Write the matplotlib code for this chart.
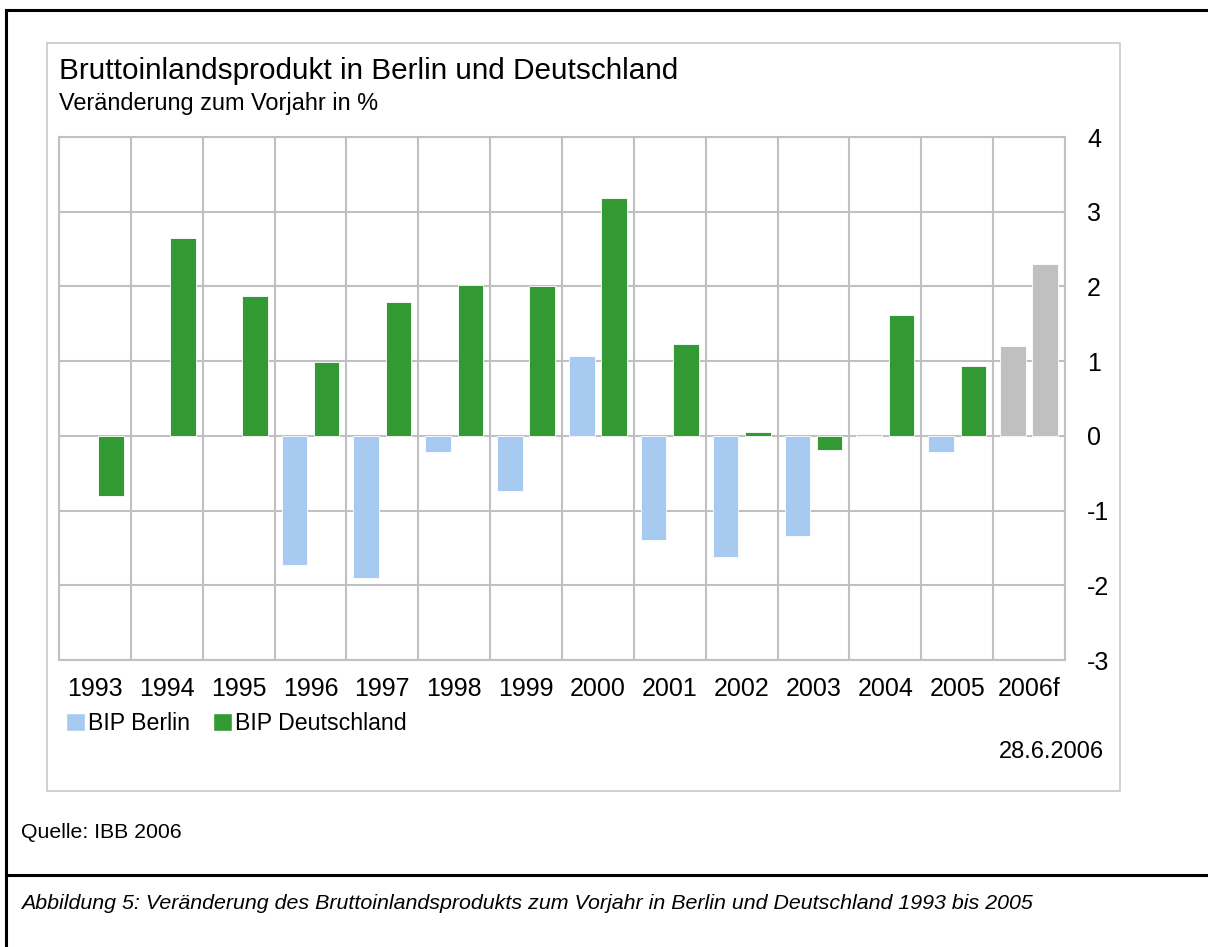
import numpy as np
import matplotlib
matplotlib.use("Agg")
import matplotlib.pyplot as plt
from matplotlib.lines import Line2D
from matplotlib.patches import Rectangle, Patch

plt.rcParams['font.family'] = ['Liberation Sans', 'DejaVu Sans']

years = ['1993', '1994', '1995', '1996', '1997', '1998', '1999',
         '2000', '2001', '2002', '2003', '2004', '2005', '2006f']
bip_berlin = [np.nan, np.nan, np.nan, -1.73, -1.9, -0.21, -0.74,
              1.07, -1.39, -1.62, -1.34, 0.03, -0.21, 1.2]
bip_deutschland = [-0.81, 2.65, 1.87, 0.99, 1.79, 2.02, 2.0,
                   3.19, 1.23, 0.05, -0.19, 1.62, 0.94, 2.3]
yticks = [-3, -2, -1, 0, 1, 2, 3, 4]

W, H = 1208, 947
fig = plt.figure(figsize=(W / 100, H / 100), dpi=100)

def fx(px):
    return px / W

def fy(py):
    return 1 - py / H

# outer black frame
for xs, ys in [((6, 6), (10, 947)), ((6, 1208), (10, 10)), ((6, 1208), (875, 875))]:
    fig.add_artist(Line2D([fx(x) for x in xs], [fy(y) for y in ys],
                          color='black', lw=2.2))

# inner chart box
fig.add_artist(Rectangle((fx(47), fy(791)), fx(1120) - fx(47), fy(43) - fy(791),
                         fill=False, edgecolor='#c8c8c8', lw=1.2))

ax = fig.add_axes([fx(59), fy(660), fx(1065) - fx(59), fy(137) - fy(660)])

blue = '#a6caf0'
green = '#339933'
grey = '#c0c0c0'
x = np.arange(len(years))
w = 0.355
off = 0.225
col_b = [blue] * (len(years) - 1) + [grey]
col_d = [green] * (len(years) - 1) + [grey]
ax.bar(x - off, bip_berlin, w, color=col_b, edgecolor='white', linewidth=0.6, zorder=3)
ax.bar(x + off, bip_deutschland, w, color=col_d, edgecolor='white', linewidth=0.6, zorder=3)

ax.set_xlim(-0.5, len(years) - 0.5)
ax.set_ylim(-3, 4)
ax.set_xticks(x)
ax.set_xticklabels(years)
ax.set_xticks(np.arange(len(years) + 1) - 0.5, minor=True)
ax.set_yticks(yticks)
ax.set_yticklabels([str(v) for v in yticks])
ax.yaxis.tick_right()
ax.tick_params(axis='both', which='both', length=0, labelsize=18)
ax.tick_params(axis='x', pad=12.5)
ax.tick_params(axis='y', pad=16)
for lab in ax.get_yticklabels():
    lab.set_horizontalalignment('left')
ax.grid(True, which='minor', axis='x', color='#c0c0c0', lw=1.5, zorder=0)
ax.grid(True, which='major', axis='y', color='#c0c0c0', lw=1.5, zorder=0)
for s in ax.spines.values():
    s.set_color('#c0c0c0')
    s.set_linewidth(1.5)

handles = [Patch(facecolor=blue, edgecolor='white', label='BIP Berlin'),
           Patch(facecolor=green, edgecolor='white', label='BIP Deutschland')]
fig.legend(handles=handles, loc='upper left', bbox_to_anchor=(fx(66), fy(712)),
           ncol=2, frameon=False, fontsize=16.7, handlelength=0.8, handleheight=0.8,
           handletextpad=0.15, columnspacing=1.0, borderaxespad=0, borderpad=0)

fig.text(fx(59), fy(71), 'Bruttoinlandsprodukt in Berlin und Deutschland',
         fontsize=21.4, va='center', ha='left')
fig.text(fx(59), fy(103), 'Veränderung zum Vorjahr in %',
         fontsize=16.9, va='center', ha='left')
fig.text(fx(1104), fy(752), '28.6.2006', fontsize=17, va='center', ha='right')
fig.text(fx(21), fy(832), 'Quelle: IBB 2006', fontsize=15.3, va='center', ha='left')
fig.text(fx(21), fy(903),
         'Abbildung 5: Veränderung des Bruttoinlandsprodukts zum Vorjahr in Berlin '
         'und Deutschland 1993 bis 2005',
         fontsize=15.4, style='italic', va='center', ha='left')

fig.savefig('out.png', dpi=100)
